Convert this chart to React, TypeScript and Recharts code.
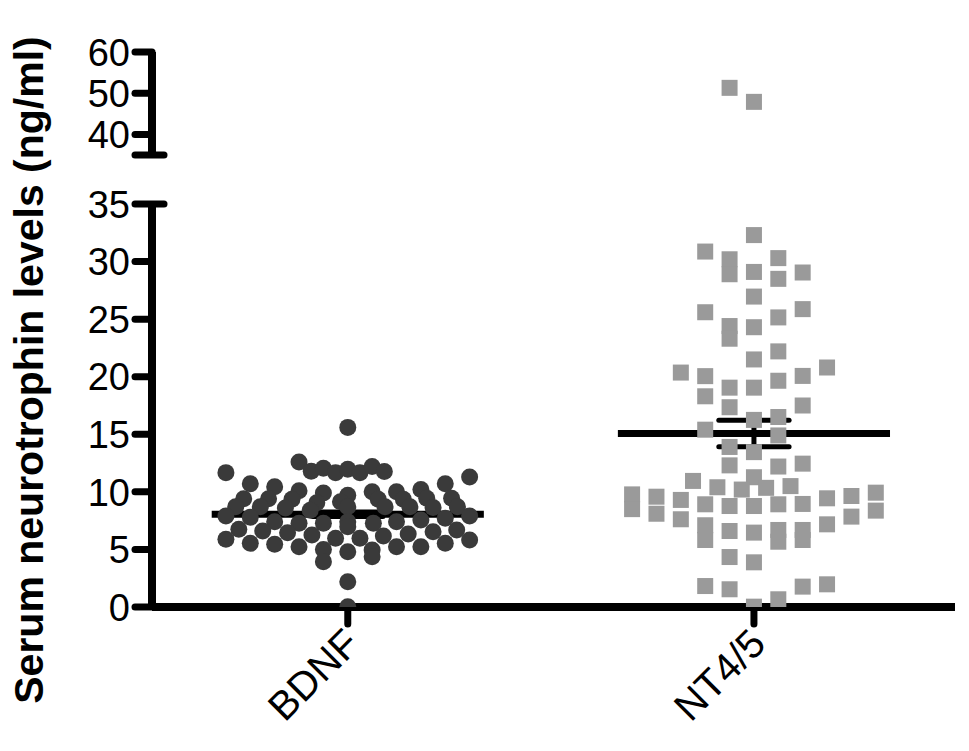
import React from 'react';
import { ScatterChart, Scatter, XAxis, YAxis, ReferenceLine } from 'recharts';

// groups and where they sit on the x axis
const categories = ['BDNF', 'NT4/5'];
const categoryPos = [1, 3];

// BDNF: column offset (beeswarm) and serum level (ng/ml)
const bdnfCol = [
  0, -2, -1.5, -1, -0.5, 0, 0.5, 1, 1.5, -5, 5,
  -4, -3, -2, -1, 0, 1, 2, 3, 4,
  -4.27, -3.25, -2.29, -1.27, -0.3, 1.25, 2.28, 3.24, 4.26,
  -4.6, -3.59, -2.56, -1.54, 0, 1.53, 2.55, 3.5, 4.5,
  -5, -4, -3, -2, -1, 0, 1.05, 2, 3, 4, 5,
  -4.47, -3.49, -2.47, -1.47, 0, 0.5, 1.46, 2.48, 3.5, 4.47,
  -5, -4, -3, -2, -0.5, 2, 3, 4, 5,
  -1, -1, 0, 1, 1, 0, 0,
];
const bdnfVal = [
  15.6, 12.6, 11.8, 12.05, 11.67, 11.96, 11.67, 12.2, 11.76, 11.67, 11.3,
  10.7, 10.45, 10.1, 9.9, 9.7, 10.0, 10.0, 10.2, 10.7,
  9.4, 9.4, 9.36, 9.06, 9.15, 9.36, 9.36, 9.44, 9.44,
  8.7, 8.7, 8.6, 8.4, 8.7, 8.7, 8.7, 8.65, 8.7,
  7.9, 7.8, 7.4, 7.27, 7.27, 7.4, 7.27, 7.4, 7.56, 7.7, 7.9,
  6.75, 6.6, 6.45, 6.26, 6.98, 5.97, 6.17, 6.34, 6.54, 6.69,
  5.88, 5.53, 5.45, 5.24, 5.97, 5.24, 5.24, 5.53, 5.82,
  5.0, 3.94, 4.8, 4.95, 4.37, 2.2, 0.03,
];

// NT4/5: column offset and serum level (ng/ml)
const ntCol = [
  -1, 0,
  0, -2, -1, 1,
  -1, 0, 1, 2,
  0, 2, -2, 1, -1, 0, -1,
  1, 0, 3, -3, -2, 2, 1, -1, 0, -2, 2, -1,
  1, 0, -2, 1, -1, 0,
  2, -1, 1, 0, -2.5, 1.5, -1.5, 0.5, -0.5,
  5, -5, 4, -4, 3, -3, 2, -2, 1, -1, 0, -5, 5, -4, 4, -3, 3, -2,
  1, 2, -1, 0, -2, 2, 1,
  -1, 0,
  3, -2, 2, -1, 1, 0,
];
const ntVal = [
  51.3, 47.9,
  32.3, 30.87, 30.2, 30.3,
  28.9, 29.1, 28.5, 29.05,
  26.96, 25.87, 25.6, 25.15, 24.4, 24.3, 23.3,
  22.2, 21.5, 20.8, 20.36, 20.05, 20.07, 19.65, 19.05, 19.05, 18.3, 17.5, 17.35,
  16.5, 16.25, 15.4, 14.9, 13.9, 13.45,
  12.45, 12.3, 12.2, 11.27, 10.95, 10.5, 10.4, 10.35, 10.2,
  9.93, 9.78, 9.64, 9.58, 9.44, 9.3, 8.95, 8.92, 8.92, 8.77, 8.77, 8.5, 8.37, 8.1, 7.85, 7.62, 7.18, 7.1,
  6.69, 6.69, 6.6, 6.46, 5.82, 5.82, 5.67,
  4.34, 3.88,
  1.97, 1.82, 1.77, 1.54, 0.67, 0.03,
];

// mean and SEM per group
const means = [8.05, 15.06];
const sems = [0.2, 1.15];

const lowerTicks = [0, 5, 10, 15, 20, 25, 30, 35];
const upperTicks = [35, 40, 50, 60];

const W = 969;
const H = 751;
const PLOT_LEFT = 152;
const PLOT_RIGHT = 955;
const LOW_TOP = 204;
const LOW_BOTTOM = 607;
const UP_TOP = 52;
const UP_BOTTOM = 155;
const X_DOMAIN: [number, number] = [0.036, 3.99];
const STEP = 0.12;
const MEAN_HALF = 0.67;
const CAP_HALF = 0.173;
const FONT = '"Liberation Sans", Arial, sans-serif';

const toPoints = (cols: number[], vals: number[], center: number) =>
  vals.map((v, i) => ({ x: center + cols[i] * STEP, y: v }));

const bdnfData = toPoints(bdnfCol, bdnfVal, categoryPos[0]);
const ntAll = toPoints(ntCol, ntVal, categoryPos[1]);
const ntLower = ntAll.filter(d => d.y <= 35);
const ntUpper = ntAll.filter(d => d.y > 35);

const Dot = (p: any) => <circle cx={p.cx} cy={p.cy} r={8.5} fill="#3a3a3a" />;
const Sq = (p: any) => <rect x={p.cx - 8} y={p.cy - 8} width={16} height={16} fill="#9a9a9a" />;

const YTick = ({ y, payload, capValue, showLabel }: any) => {
  const isCap = payload.value === capValue;
  return (
    <g>
      <line x1={PLOT_LEFT - 17} x2={PLOT_LEFT + (isCap ? 12 : 0)} y1={y} y2={y}
        stroke="#000" strokeWidth={7} strokeLinecap="round" />
      {showLabel(payload.value) && (
        <text x={PLOT_LEFT - 22} y={y} dy="0.36em" textAnchor="end" fontSize={38} fontFamily={FONT} fill="#000">
          {payload.value}
        </text>
      )}
    </g>
  );
};

const XTick = ({ x, y, payload }: any) => {
  const name = categories[categoryPos.indexOf(payload.value)];
  return (
    <g transform={`translate(${x + 4},${y + 10})`}>
      <text transform="rotate(-45)" textAnchor="end" dy="0.35em" fontSize={40} fontFamily={FONT} fill="#000">
        {name}
      </text>
    </g>
  );
};

const statLines = (i: number) => {
  const c = categoryPos[i];
  const m = means[i];
  const s = sems[i];
  return [
    <ReferenceLine key={`m${i}`} segment={[{ x: c - MEAN_HALF, y: m }, { x: c + MEAN_HALF, y: m }]}
      stroke="#000" strokeWidth={7} ifOverflow="visible" />,
    <ReferenceLine key={`u${i}`} segment={[{ x: c - CAP_HALF, y: m + s }, { x: c + CAP_HALF, y: m + s }]}
      stroke="#000" strokeWidth={5} strokeLinecap="round" ifOverflow="visible" />,
    <ReferenceLine key={`l${i}`} segment={[{ x: c - CAP_HALF, y: m - s }, { x: c + CAP_HALF, y: m - s }]}
      stroke="#000" strokeWidth={5} strokeLinecap="round" ifOverflow="visible" />,
    <ReferenceLine key={`v${i}`} segment={[{ x: c, y: m - s }, { x: c, y: m + s }]}
      stroke="#000" strokeWidth={5} ifOverflow="visible" />,
  ];
};

export default function App() {
  const yAxisW = 60;
  return (
    <div style={{ position: 'absolute', left: 0, top: 0, width: W, height: H, background: '#fff' }}>
      {/* lower segment 0-35 */}
      <div style={{ position: 'absolute', left: 0, top: 0 }}>
        <ScatterChart width={W} height={H}
          margin={{ top: LOW_TOP, right: W - PLOT_RIGHT, bottom: H - LOW_BOTTOM - 100, left: PLOT_LEFT - yAxisW }}>
          <XAxis type="number" dataKey="x" domain={X_DOMAIN} ticks={categoryPos} interval={0}
            allowDataOverflow height={100} tickSize={17}
            axisLine={{ stroke: '#000', strokeWidth: 8 }}
            tickLine={{ stroke: '#000', strokeWidth: 7, strokeLinecap: 'round' }}
            tick={<XTick />} />
          <YAxis type="number" dataKey="y" domain={[0, 35]} ticks={lowerTicks} interval={0}
            allowDataOverflow width={yAxisW} tickLine={false}
            axisLine={{ stroke: '#000', strokeWidth: 8 }}
            tick={<YTick capValue={35} showLabel={() => true} />} />
          <Scatter data={bdnfData} shape={Dot} isAnimationActive={false} />
          <Scatter data={ntLower} shape={Sq} isAnimationActive={false} />
          {statLines(0)}
          {statLines(1)}
        </ScatterChart>
      </div>
      {/* upper segment 35-60 */}
      <div style={{ position: 'absolute', left: 0, top: 0 }}>
        <ScatterChart width={W} height={H}
          margin={{ top: UP_TOP, right: W - PLOT_RIGHT, bottom: H - UP_BOTTOM, left: PLOT_LEFT - yAxisW }}>
          <XAxis type="number" dataKey="x" domain={X_DOMAIN} hide height={0} allowDataOverflow />
          <YAxis type="number" dataKey="y" domain={[35, 60]} ticks={upperTicks} interval={0}
            allowDataOverflow width={yAxisW} tickLine={false}
            axisLine={{ stroke: '#000', strokeWidth: 8 }}
            tick={<YTick capValue={35} showLabel={(v: number) => v !== 35} />} />
          <Scatter data={ntUpper} shape={Sq} isAnimationActive={false} />
        </ScatterChart>
      </div>
      <svg width={W} height={H} style={{ position: 'absolute', left: 0, top: 0, pointerEvents: 'none' }}>
        <text transform="translate(43,370) rotate(-90)" textAnchor="middle" fontSize={41} fontWeight="bold"
          fontFamily={FONT} fill="#000">
          Serum neurotrophin levels (ng/ml)
        </text>
      </svg>
    </div>
  );
}
